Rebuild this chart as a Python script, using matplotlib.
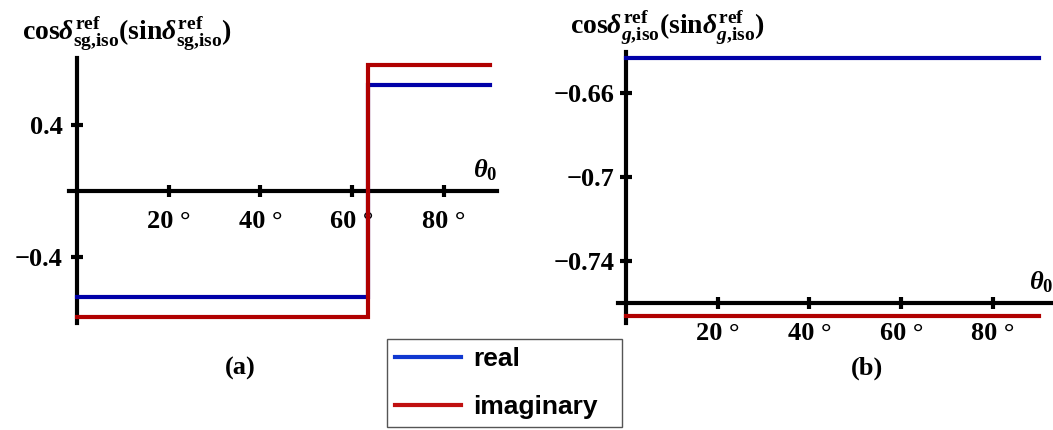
import matplotlib
matplotlib.use("Agg")
import matplotlib.pyplot as plt
from matplotlib.lines import Line2D

plt.rcParams['font.family'] = 'Liberation Serif'
plt.rcParams['font.weight'] = 'bold'
plt.rcParams['mathtext.fontset'] = 'custom'
plt.rcParams['mathtext.rm'] = 'Liberation Serif:bold'
plt.rcParams['mathtext.bf'] = 'Liberation Serif:bold'
plt.rcParams['mathtext.it'] = 'Liberation Serif:italic:bold'

# (a) sg interface: phase jumps at the critical angle
theta_c = 63.5
theta_a = [0, theta_c, theta_c, 90]
real_a = [-0.643, -0.643, 0.643, 0.643]
imag_a = [-0.766, -0.766, 0.766, 0.766]

# (b) g interface: constant over the whole range
theta_b = [0, 90]
real_b = [-0.643, -0.643]
imag_b = [-0.766, -0.766]

xticks = [20, 40, 60, 80]
xticklabels = ["20 °", "40 °", "60 °", "80 °"]
yticks_a = [-0.4, 0.4]
yticklabels_a = ["\u22120.4", "0.4"]
yticks_b = [-0.74, -0.7, -0.66]
yticklabels_b = ["\u22120.74", "\u22120.7", "\u22120.66"]

c_real = "#0000a8"
c_imag = "#b00000"

fig = plt.figure(figsize=(10.53, 4.3), dpi=100)
ax1 = fig.add_axes([0.0655, 0.2488, 0.4065, 0.6163])
ax2 = fig.add_axes([0.5869, 0.2488, 0.4131, 0.630])


def style_axis(ax, x0, y0, ypad):
    for s in ("top", "right"):
        ax.spines[s].set_visible(False)
    ax.spines["left"].set_position(("data", x0))
    ax.spines["bottom"].set_position(("data", y0))
    for s in ("left", "bottom"):
        ax.spines[s].set_linewidth(3)
    ax.set_axisbelow(True)
    ax.tick_params(direction="inout", length=9, width=3, labelsize=19)
    ax.tick_params(axis="x", pad=9)
    ax.tick_params(axis="y", pad=ypad)
    ax.patch.set_visible(False)
    ax.annotate(r"$\theta_0$", xy=(1, y0), xycoords=("axes fraction", "data"),
                xytext=(0, 6), textcoords="offset points",
                ha="right", va="bottom", fontsize=19)


ax1.plot(theta_a, real_a, color=c_real, lw=3, zorder=3, solid_joinstyle="miter")
ax1.plot(theta_a, imag_a, color=c_imag, lw=3, zorder=3, solid_joinstyle="miter")
ax1.set_xlim(-1.75, 91.6)
ax1.set_ylim(-0.80, 0.806)
ax1.set_xticks(xticks, xticklabels)
ax1.set_yticks(yticks_a, yticklabels_a)
style_axis(ax1, 0, 0, 6)

ax2.plot(theta_b, real_b, color=c_real, lw=3, zorder=3)
ax2.plot(theta_b, imag_b, color=c_imag, lw=3, zorder=3)
ax2.set_xlim(-1.75, 93.1)
ax2.set_ylim(-0.7695, -0.6404)
ax2.set_xticks(xticks, xticklabels)
ax2.set_yticks(yticks_b, yticklabels_b)
style_axis(ax2, 0, -0.76, 4)

fig.text(22 / 1053, 1 - 40 / 430,
         r"$\mathrm{cos}\delta^{\mathrm{ref}}_{\mathrm{sg{,}iso}}(\mathrm{sin}\delta^{\mathrm{ref}}_{\mathrm{sg{,}iso}})$",
         fontsize=20, ha="left", va="baseline")
fig.text(570 / 1053, 1 - 33 / 430,
         r"$\mathrm{cos}\delta^{\mathrm{ref}}_{g{,}\mathrm{iso}}(\mathrm{sin}\delta^{\mathrm{ref}}_{g{,}\mathrm{iso}})$",
         fontsize=20, ha="left", va="baseline")

fig.text(240 / 1053, 1 - 368 / 430, "(a)", fontsize=19, ha="center", va="center")
fig.text(867 / 1053, 1 - 368 / 430, "(b)", fontsize=19, ha="center", va="center")

handles = [Line2D([], [], color="#1038d0", lw=3),
           Line2D([], [], color="#c01010", lw=3)]
leg = fig.legend(handles, ["real", "imaginary"], loc="lower left",
                 bbox_to_anchor=(387 / 1053, 3 / 430, 235 / 1053, 92 / 430),
                 mode="expand", borderaxespad=0,
                 prop={"family": "Liberation Sans", "weight": "bold", "size": 19},
                 handlelength=2.5, handletextpad=0.45, labelspacing=0.9,
                 borderpad=0.3, fancybox=False, framealpha=1)
leg.get_frame().set_edgecolor("#555555")
leg.get_frame().set_linewidth(1)

fig.savefig("out.png", dpi=100)
